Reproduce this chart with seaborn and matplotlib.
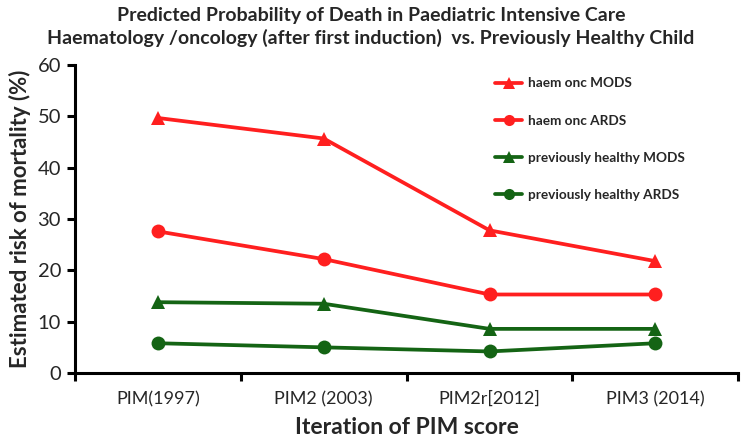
import pandas as pd
import matplotlib.pyplot as plt
import seaborn as sns
from matplotlib.ticker import FixedLocator

# values
categories = ['PIM(1997)', 'PIM2 (2003)', 'PIM2r[2012]', 'PIM3 (2014)']
haem_mods = [49.7, 45.7, 27.8, 21.8]
haem_ards = [27.6, 22.2, 15.3, 15.3]
healthy_mods = [13.8, 13.5, 8.6, 8.6]
healthy_ards = [5.8, 5.0, 4.2, 5.8]

series_names = ['haem onc MODS', 'haem onc ARDS',
                'previously healthy MODS', 'previously healthy ARDS']
series_values = [haem_mods, haem_ards, healthy_mods, healthy_ards]

rows = []
for name, vals in zip(series_names, series_values):
    for i, v in enumerate(vals):
        rows.append({'series': name, 'pos': i, 'risk': v})
df = pd.DataFrame(rows)

sns.set_theme(style="white")
plt.rcParams['font.family'] = ['Lato', 'DejaVu Sans']

red = '#FF1F1F'
green = '#146414'
palette = {series_names[0]: red, series_names[1]: red,
           series_names[2]: green, series_names[3]: green}
markers = {series_names[0]: '^', series_names[1]: 'o',
           series_names[2]: '^', series_names[3]: 'o'}

fig = plt.figure(figsize=(7.42, 4.43), dpi=100)
ax = fig.add_axes([0.101, 0.158, 0.894, 0.695])

sns.lineplot(data=df, x='pos', y='risk', hue='series', style='series',
             hue_order=series_names, style_order=series_names,
             palette=palette, markers=markers, dashes=False,
             linewidth=2.7, markersize=10, markeredgewidth=0, ax=ax)

ax.set_xlim(-0.5, 3.5)
ax.set_ylim(0, 60)
ax.set_yticks(range(0, 61, 10))
ax.xaxis.set_major_locator(FixedLocator([-0.5, 0.5, 1.5, 2.5, 3.5]))
ax.xaxis.set_minor_locator(FixedLocator(range(len(categories))))
ax.set_xticklabels([])
ax.set_xticklabels(categories, minor=True)
ax.tick_params(axis='x', which='major', length=6, width=2.2, color='black',
               direction='out', bottom=True)
ax.tick_params(axis='x', which='minor', length=0, labelsize=13, pad=13)
ax.tick_params(axis='y', length=6, width=2.2, color='black', direction='out',
               left=True, labelsize=14.5, pad=4)

for s in ['top', 'right']:
    ax.spines[s].set_visible(False)
for s in ['left', 'bottom']:
    ax.spines[s].set_color('black')
    ax.spines[s].set_linewidth(2.2)

ax.set_xlabel('Iteration of PIM score', fontsize=16.5, fontweight='bold',
              labelpad=7)
ax.set_ylabel('Estimated risk of mortality (%)', fontsize=16,
              fontweight='bold', labelpad=5)

fig.suptitle('Predicted Probability of Death in Paediatric Intensive Care\n'
             'Haematology /oncology (after first induction)  vs. Previously Healthy Child',
             fontsize=14, fontweight='bold', y=0.985, linespacing=1.35)

leg = ax.legend(loc='upper left', bbox_to_anchor=(0.615, 1.0), frameon=False,
                fontsize=9.8, labelspacing=1.85, handlelength=2.0,
                handletextpad=0.4, markerscale=0.8)
for t in leg.get_texts():
    t.set_fontweight('bold')

fig.savefig('out.png', dpi=100)
